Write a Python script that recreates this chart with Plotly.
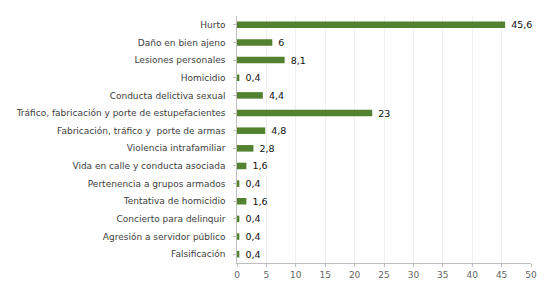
import plotly.graph_objects as go

categories = [
    "Hurto",
    "Daño en bien ajeno",
    "Lesiones personales",
    "Homicidio",
    "Conducta delictiva sexual",
    "Tráfico, fabricación y porte de estupefacientes",
    "Fabricación, tráfico y  porte de armas",
    "Violencia intrafamiliar",
    "Vida en calle y conducta asociada",
    "Pertenencia a grupos armados",
    "Tentativa de homicidio",
    "Concierto para delinquir",
    "Agresión a servidor público",
    "Falsificación",
]
values = [45.6, 6, 8.1, 0.4, 4.4, 23, 4.8, 2.8, 1.6, 0.4, 1.6, 0.4, 0.4, 0.4]
x_ticks = [0, 5, 10, 15, 20, 25, 30, 35, 40, 45, 50]

labels = [" " + ("%g" % v).replace(".", ",") for v in values]

fig = go.Figure(go.Bar(
    y=categories,
    x=values,
    orientation="h",
    marker=dict(color="#52822f", line=dict(width=0)),
    width=0.37,
    text=labels,
    textposition="outside",
    constraintext="none",
    textfont=dict(family="DejaVu Sans", size=9.5, color="#111111"),
    cliponaxis=False,
))

# page body has an 8px default margin, so the figure is sized to fit the window
fig.update_layout(
    width=538,
    height=273,
    margin=dict(l=229, r=15, t=8, b=18),
    paper_bgcolor="white",
    plot_bgcolor="white",
    showlegend=False,
    font=dict(family="DejaVu Sans", size=9, color="#404040"),
    xaxis=dict(
        range=[0, 50],
        tickvals=x_ticks,
        ticktext=[str(t) for t in x_ticks],
        showgrid=True,
        gridcolor="#f0f0f0",
        gridwidth=1,
        showline=True,
        linecolor="#bfbfbf",
        ticks="outside",
        ticklen=3,
        tickcolor="#bfbfbf",
        zeroline=False,
        automargin=False,
        tickfont=dict(size=9, color="#666666"),
    ),
    yaxis=dict(
        autorange="reversed",
        showline=True,
        linecolor="#bfbfbf",
        ticks="outside",
        ticklen=3,
        tickcolor="#bfbfbf",
        showgrid=False,
        automargin=False,
        tickfont=dict(size=9, color="#404040"),
        ticksuffix="  ",
    ),
)

fig.write_html("out.html")
